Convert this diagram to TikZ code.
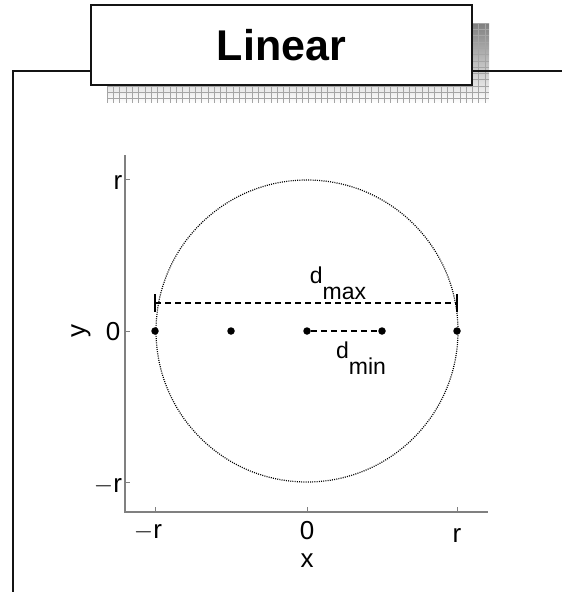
\documentclass[tikz,border=0pt]{standalone}
\usepackage{fontspec}
\setmainfont{Liberation Sans}
\usepackage{tikz}
\usetikzlibrary{positioning,calc}
\definecolor{ink}{RGB}{20,20,20}
\definecolor{axisgray}{RGB}{128,128,128}
\definecolor{shade}{RGB}{196,196,196}
\definecolor{shadeline}{RGB}{165,165,165}
\newcommand{\lowtxt}[1]{\raisebox{-0.7em}{#1}}

\begin{document}
\begin{tikzpicture}[x=1pt,y=-1pt,font=\fontsize{26}{28}\selectfont]
\tikzset{frame/.style={draw=ink,line width=2pt},
  titlebox/.style={draw=ink,fill=white,line width=1.6pt,minimum width=381pt,minimum height=80pt,inner sep=0pt,font=\bfseries\fontsize{43}{45}\selectfont},
  ax/.style={draw=axisgray,line width=1.2pt},
  tk/.style={draw=axisgray,line width=0.8pt},
  pt/.style={circle,fill=black,inner sep=0pt,minimum size=7.5pt},
  meas/.style={dash pattern=on 6pt off 4pt,line width=1.6pt},
  lbl/.style={inner sep=0pt},
  dlbl/.style={inner sep=0pt,font=\fontsize{23}{25}\selectfont}}
\useasboundingbox (0,0) rectangle (562,592);
% title shadow with grid
\fill[shade] (107,23) rectangle (489,103);
\foreach \i in {0,...,60} \draw[shadeline,line width=0.6pt] (107+6.3*\i,23) -- (107+6.3*\i,103);
\foreach \j in {0,...,12} \draw[shadeline,line width=0.6pt] (107,23+6.3*\j) -- (489,23+6.3*\j);
% frame
\draw[frame] (13,592) -- (13,71) -- (562,71);
\node[titlebox] (title) at (281.5,45) {Linear};
% axes
\draw[ax] (125,155) -- (125,512) -- (488,512);
\foreach \y/\t/\p in {179/r/{(118,183)},331/0/{(113,332)},482/{$-$r}/{(108,486)}}{
  \draw[tk] (125,\y) -- (130,\y);
  \node[lbl] at \p {\t};}
\foreach \x/\t/\p in {155/{$-$r}/{(148,532)},307/0/{(307,531)},457/r/{(457,535)}}{
  \draw[tk] (\x,512) -- (\x,507);
  \node[lbl] at \p {\t};}
\node[lbl] (xlab) at (307,561) {x};
\node[lbl,rotate=90] (ylab) at (81,331) {y};
% circle of radius r
\draw[dash pattern=on 1pt off 1.2pt,line width=1.2pt] (307,331) circle [radius=151];
% points on the line
\foreach \x [count=\i] in {155,231,307,382,457}
  \node[pt] (p\i) at (\x,331) {};
% distances
\coordinate (ml) at (155,303);
\coordinate (mr) at (457,303);
\draw[meas] (ml) -- (mr);
\draw[line width=1.8pt] ($(ml)+(0,-9)$) -- ($(ml)+(0,9)$);
\draw[line width=1.8pt] ($(mr)+(0,-9)$) -- ($(mr)+(0,9)$);
\node[dlbl] (dmax) at (338,283) {d\lowtxt{max}};
\draw[meas] (p3) -- (p4);
\node[dlbl] (dmin) at (361,358) {d\lowtxt{min}};
\end{tikzpicture}
\end{document}
